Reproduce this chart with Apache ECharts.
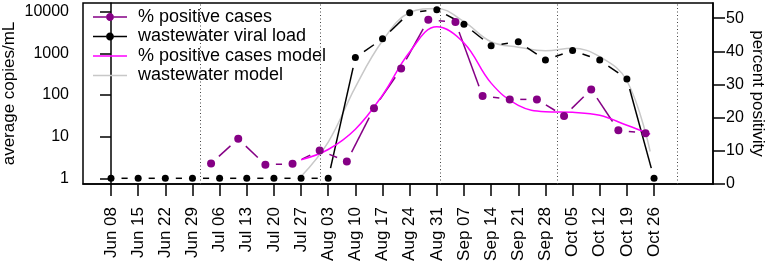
<!DOCTYPE html>
<html>
<head>
<meta charset="utf-8">
<script src="https://cdn.jsdelivr.net/npm/echarts@6/dist/echarts.min.js"></script>
<style>
  html, body { margin: 0; padding: 0; background: #fff; }
  #chart { width: 768px; height: 267px; }
</style>
</head>
<body>
<div id="chart"></div>
<script>
// weekly sample dates, x = days since Jun 08
const weekLabels = ['Jun 08', 'Jun 15', 'Jun 22', 'Jun 29', 'Jul 06', 'Jul 13', 'Jul 20', 'Jul 27', 'Aug 03', 'Aug 10', 'Aug 17', 'Aug 24', 'Aug 31', 'Sep 07', 'Sep 14', 'Sep 21', 'Sep 28', 'Oct 05', 'Oct 12', 'Oct 19', 'Oct 26']
const weekDays = [0, 7, 14, 21, 28, 35, 42, 49, 56, 63, 70, 77, 84, 91, 98, 105, 112, 119, 126, 133, 140]

// wastewater viral load, copies/mL
const viralLoad = [1, 1, 1, 1, 1, 1, 1, 1, 1, 790, 2240, 9500, 11200, 5000, 1520, 1900, 690, 1170, 690, 243, 1]

// % positive cases (reported a couple of days before the sample dates)
const posDays = [25.8, 32.8, 39.8, 46.8, 53.8, 60.8, 67.8, 74.8, 81.8, 88.8, 95.8, 102.8, 109.8, 116.8, 123.8, 130.8, 137.8]
const posPct = [6.2, 13.6, 5.8, 6.1, 10.1, 6.8, 22.8, 34.8, 49.5, 48.8, 26.5, 25.5, 25.5, 20.5, 28.5, 16.2, 15.3]

// fitted models
const modelDays = [49, 56, 63, 70, 77, 84, 91, 98, 105, 112, 119, 126, 133, 139]
const wwModel = [1.1, 7.4, 155, 2000, 9550, 12000, 5750, 1900, 1410, 1150, 1320, 830, 220, 4.4]
const posModel = [7.3, 10.4, 16.5, 26.8, 39.8, 47.4, 42.5, 30.4, 23.7, 21.8, 21.6, 20.7, 17.7, 15]

// first day of Jul, Aug, Sep, Oct, Nov
const monthStarts = [23, 54, 85, 115, 146]

const logTicks = [0, 1, 2, 3, 4]
const pctTicks = [0, 10, 20, 30, 40, 50]

const PURPLE = '#850085'
const MAGENTA = '#ff00ff'
const GREY = '#c8c8c8'
const FONT = 'Liberation Sans, Arial, sans-serif'

const DOT_ICON = 'path://M0,3.25L13,3.25L13,4.75L0,4.75Z M21,3.25L34,3.25L34,4.75L21,4.75Z ' +
  'M13,4C13,1.79 14.79,0 17,0C19.21,0 21,1.79 21,4C21,6.21 19.21,8 17,8C14.79,8 13,6.21 13,4Z'
const LINE_ICON = 'path://M0,0L34,0L34,1.5L0,1.5Z'

const chart = echarts.init(document.getElementById('chart'))

// pairs of consecutive points, drawn as segments that stop short of the dots
function pairs(xs, ys) {
  return xs.slice(1).map((x, i) => [xs[i], ys[i], x, ys[i + 1]])
}

function gapLine(color) {
  return function (params, api) {
    const a = api.coord([api.value(0), api.value(1)])
    const b = api.coord([api.value(2), api.value(3)])
    const dx = b[0] - a[0]
    const dy = b[1] - a[1]
    const len = Math.hypot(dx, dy)
    const gap = 10.5
    if (len <= gap * 2) return null
    const ux = dx / len
    const uy = dy / len
    return {
      type: 'line',
      shape: { x1: a[0] + ux * gap, y1: a[1] + uy * gap, x2: b[0] - ux * gap, y2: b[1] - uy * gap },
      style: { stroke: color, lineWidth: 1.5 },
    }
  }
}

const log10 = v => Math.log10(v)

chart.setOption({
  animation: false,
  backgroundColor: '#fff',
  grid: {
    left: 83,
    right: 55,
    top: 3,
    bottom: 83,
    outerBoundsMode: 'none',
    show: true,
    borderColor: '#000',
    borderWidth: 1.5,
  },
  legend: {
    orient: 'vertical',
    left: 88,
    top: 3,
    itemWidth: 34,
    itemHeight: 8,
    itemGap: 1.5,
    selectedMode: false,
    textStyle: {
      fontFamily: FONT,
      fontSize: 18,
      lineHeight: 18,
      color: '#000',
      padding: [0, 0, 0, 6],
    },
    data: [
      { name: '% positive cases', icon: DOT_ICON, itemStyle: { color: PURPLE, borderWidth: 0 } },
      { name: 'wastewater viral load', icon: DOT_ICON, itemStyle: { color: '#000', borderWidth: 0 } },
      { name: '% positive cases model', icon: LINE_ICON, itemStyle: { color: MAGENTA, borderWidth: 0 } },
      { name: 'wastewater model', icon: LINE_ICON, itemStyle: { color: GREY, borderWidth: 0 } },
    ],
  },
  xAxis: {
    type: 'value',
    min: -7.22,
    max: 155.2,
    splitLine: { show: false },
    axisLine: { show: true, onZero: false, lineStyle: { color: '#000', width: 1.5 } },
    axisTick: {
      show: true,
      length: 12,
      customValues: weekDays,
      lineStyle: { color: '#000', width: 1.5 },
    },
    axisLabel: {
      customValues: weekDays,
      rotate: 90,
      margin: 23,
      fontFamily: FONT,
      fontSize: 17,
      color: '#000',
      formatter: v => weekLabels[weekDays.indexOf(v)],
    },
  },
  yAxis: [
    {
      type: 'value',
      position: 'left',
      min: -0.137,
      max: 4.209,
      name: 'average copies/mL',
      nameLocation: 'middle',
      nameGap: 65,
      nameMoveOverlap: false,
      nameTextStyle: { fontFamily: FONT, fontSize: 17, color: '#000' },
      splitLine: { show: false },
      axisLine: { show: true, lineStyle: { color: '#000', width: 1.5 } },
      axisTick: {
        show: true,
        length: 11,
        customValues: logTicks,
        lineStyle: { color: '#000', width: 1.5 },
      },
      axisLabel: {
        customValues: logTicks,
        margin: 14,
        fontFamily: FONT,
        fontSize: 16,
        color: '#000',
        formatter: v => String(Math.round(Math.pow(10, v))),
      },
    },
    {
      type: 'value',
      position: 'right',
      min: 0,
      max: 54.55,
      name: 'percent positivity',
      nameLocation: 'middle',
      nameGap: 36,
      nameRotate: -90,
      nameMoveOverlap: false,
      nameTextStyle: { fontFamily: FONT, fontSize: 17, color: '#000' },
      splitLine: { show: false },
      axisLine: { show: true, lineStyle: { color: '#000', width: 1.5 } },
      axisTick: {
        show: true,
        length: 12,
        customValues: pctTicks,
        lineStyle: { color: '#000', width: 1.5 },
      },
      axisLabel: {
        customValues: pctTicks,
        margin: 13,
        fontFamily: FONT,
        fontSize: 16,
        color: '#000',
      },
    },
  ],
  series: [
    // points come first so the legend takes its style from them
    {
      name: '% positive cases',
      type: 'scatter',
      yAxisIndex: 1,
      z: 4,
      symbolSize: 8,
      itemStyle: { color: PURPLE, opacity: 1 },
      data: posDays.map((d, i) => [d, posPct[i]]),
    },
    {
      name: 'wastewater viral load',
      type: 'scatter',
      yAxisIndex: 0,
      z: 4,
      symbolSize: 7,
      itemStyle: { color: '#000', opacity: 1 },
      data: weekDays.map((d, i) => [d, log10(viralLoad[i])]),
    },
    {
      name: '% positive cases model',
      type: 'line',
      yAxisIndex: 1,
      smooth: 0.4,
      symbol: 'none',
      lineStyle: { color: MAGENTA, width: 1.5 },
      data: modelDays.map((d, i) => [d, posModel[i]]),
    },
    {
      name: 'wastewater model',
      type: 'line',
      yAxisIndex: 0,
      z: 1,
      smooth: 0.4,
      symbol: 'none',
      lineStyle: { color: GREY, width: 1.5 },
      data: modelDays.map((d, i) => [d, log10(wwModel[i])]),
      markLine: {
        silent: true,
        symbol: ['none', 'none'],
        label: { show: false },
        lineStyle: { color: '#444', width: 1, type: [1, 2.5] },
        data: monthStarts.map(d => ({ xAxis: d })),
      },
    },
    {
      name: 'wastewater viral load',
      type: 'custom',
      yAxisIndex: 0,
      z: 3,
      renderItem: gapLine('#000'),
      encode: { x: [0, 2], y: [1, 3] },
      data: pairs(weekDays, viralLoad.map(log10)),
    },
    {
      name: '% positive cases',
      type: 'custom',
      yAxisIndex: 1,
      z: 3,
      renderItem: gapLine(PURPLE),
      encode: { x: [0, 2], y: [1, 3] },
      data: pairs(posDays, posPct),
    },
  ],
})
</script>
</body>
</html>
